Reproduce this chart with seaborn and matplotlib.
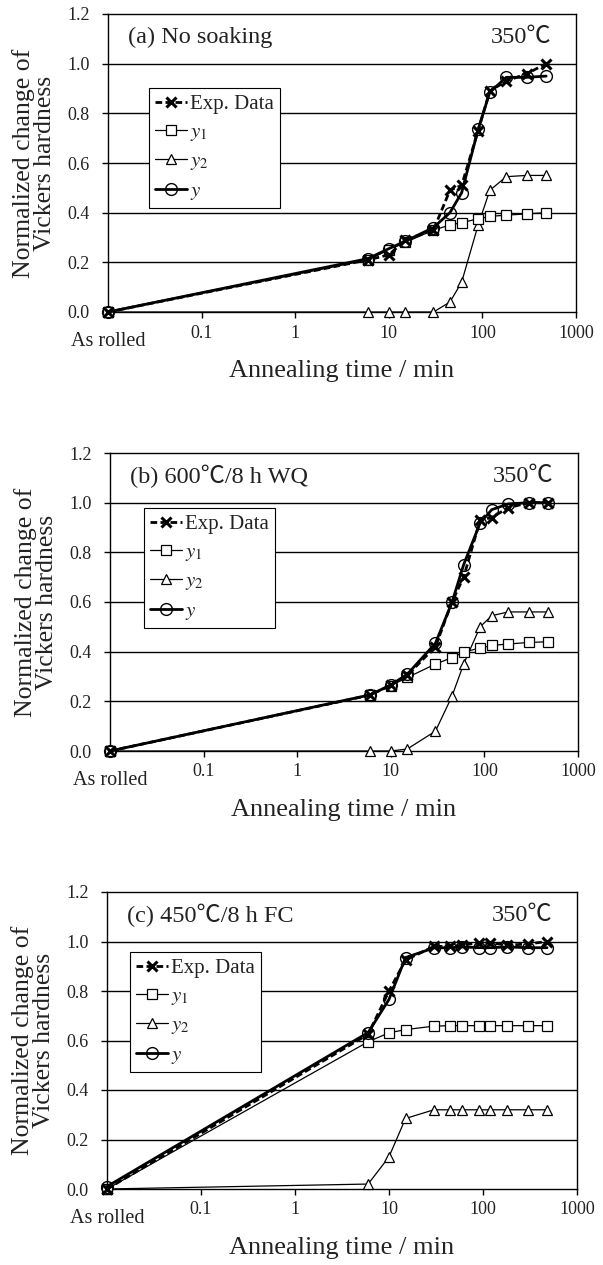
import numpy as np
import pandas as pd
import seaborn as sns
import matplotlib
matplotlib.use("Agg")
import matplotlib.pyplot as plt
import matplotlib.transforms as mtransforms

sns.set_theme(style="white")
plt.rcParams['font.family'] = ['Liberation Serif', 'DejaVu Serif']
plt.rcParams['mathtext.fontset'] = 'stix'

# ---------------- data ----------------
times = [0.01, 6, 10, 15, 30, 45, 60, 90, 120, 180, 300, 480]
xtick_values = [0.1, 1, 10, 100, 1000]
xtick_labels = ["0.1", "1", "10", "100", "1000"]
ytick_values = [0.0, 0.2, 0.4, 0.6, 0.8, 1.0, 1.2]
panel_titles = ["(a) No soaking", "(b) 600\u2103/8 h WQ", "(c) 450\u2103/8 h FC"]
temp_label = "350\u2103"
series_labels = ["Exp. Data", "$y_1$", "$y_2$", "$y$"]

a_exp = [0, 0.21, 0.23, 0.29, 0.33, 0.49, 0.51, 0.73, 0.89, 0.93, 0.96, 1.00]
a_y1 = [0, 0.21, 0.25, 0.28, 0.33, 0.35, 0.36, 0.375, 0.385, 0.39, 0.395, 0.40]
a_y2 = [0, 0, 0, 0, 0, 0.04, 0.12, 0.35, 0.49, 0.545, 0.55, 0.55]
a_y = [0, 0.215, 0.255, 0.285, 0.34, 0.40, 0.48, 0.735, 0.885, 0.945, 0.945, 0.95]

b_exp = [0, 0.225, 0.265, 0.305, 0.42, 0.60, 0.70, 0.93, 0.94, 0.98, 1.0, 1.0]
b_y1 = [0, 0.225, 0.263, 0.296, 0.35, 0.376, 0.398, 0.415, 0.425, 0.431, 0.437, 0.44]
b_y2 = [0, 0, 0, 0.008, 0.08, 0.22, 0.35, 0.50, 0.545, 0.56, 0.56, 0.56]
b_y = [0, 0.226, 0.266, 0.309, 0.434, 0.598, 0.75, 0.918, 0.972, 0.995, 1.0, 1.0]

c_exp = [0, 0.625, 0.80, 0.925, 0.98, 0.98, 0.985, 0.995, 0.995, 0.985, 0.99, 1.0]
c_y1 = [0, 0.595, 0.631, 0.644, 0.658, 0.66, 0.66, 0.66, 0.66, 0.66, 0.66, 0.66]
c_y2 = [0, 0.02, 0.13, 0.285, 0.32, 0.32, 0.32, 0.32, 0.32, 0.32, 0.32, 0.32]
c_y = [0.01, 0.632, 0.766, 0.935, 0.974, 0.975, 0.978, 0.975, 0.975, 0.978, 0.975, 0.975]

panels = [
    (a_exp, a_y1, a_y2, a_y),
    (b_exp, b_y1, b_y2, b_y),
    (c_exp, c_y1, c_y2, c_y),
]

# ---------------- layout ----------------
W, H = 603, 1265
fig = plt.figure(figsize=(W / 100, H / 100), dpi=100)

# axes boxes in pixels: left, top, right, bottom
boxes = [(108, 14, 576, 312), (110, 453, 578, 751), (107, 892, 577, 1189)]
legend_pos = [(149, 88), (144, 508), (130, 952)]

tick_fs = 13
rolled_fs = 14.5
xlabel_fs = 19
ylabel_fs = 18.5
title_fs = 17.5
legend_fs = 15
txt_color = "#222222"
cjk_family = ['Liberation Serif', 'Noto Sans CJK JP']

for i, (data, box, lpos) in enumerate(zip(panels, boxes, legend_pos)):
    l, t, r, b = box
    ax = fig.add_axes([l / W, 1 - b / H, (r - l) / W, (b - t) / H])
    exp, y1, y2, y = data

    common = dict(ax=ax, sort=False, color="black", legend=False, clip_on=False)
    sns.lineplot(x=times, y=y2, marker="^", markersize=7, linewidth=0.9,
                 markerfacecolor="white", markeredgecolor="black", markeredgewidth=0.9,
                 zorder=3, **common)
    sns.lineplot(x=times, y=y1, marker="s", markersize=7, linewidth=0.9,
                 markerfacecolor="white", markeredgecolor="black", markeredgewidth=0.9,
                 zorder=4, **common)
    sns.lineplot(x=times, y=y, marker="o", markersize=8.5, linewidth=2.0,
                 markerfacecolor="none", markeredgecolor="black", markeredgewidth=1.0,
                 zorder=5, **common)
    sns.lineplot(x=times, y=exp, marker="x", markersize=7, linewidth=2.0,
                 linestyle=(0, (2.4, 1.2)), markeredgewidth=2.2,
                 markeredgecolor="black", markerfacecolor="black",
                 zorder=6, **common)

    ax.set_xscale("log")
    ax.set_xlim(0.01, 1000)
    ax.set_ylim(0, 1.2)
    ax.set_xticks(xtick_values)
    ax.set_xticklabels(xtick_labels, fontsize=tick_fs)
    ax.xaxis.set_minor_locator(matplotlib.ticker.NullLocator())
    ax.set_yticks(ytick_values)
    ax.set_yticklabels([f"{v:.1f}" for v in ytick_values], fontsize=tick_fs)
    ax.tick_params(axis="both", which="major", direction="out", length=4,
                   width=1, color="black", labelcolor=txt_color, bottom=True, left=True)
    ax.tick_params(axis="x", pad=5)
    ax.tick_params(axis="y", pad=9)

    for y_g in [0.2, 0.4, 0.6, 0.8, 1.0]:
        ax.axhline(y_g, color="black", linewidth=1.0, zorder=1)
    for s in ax.spines.values():
        s.set_visible(True)
        s.set_color("black")
        s.set_linewidth(1.0)
        s.set_zorder(2)

    trans = mtransforms.blended_transform_factory(ax.transData, ax.transAxes)
    ax.text(0.01, -0.068, "As rolled", transform=trans, ha="center", va="top",
            fontsize=rolled_fs, color=txt_color)

    ax.set_xlabel("Annealing time / min", fontsize=xlabel_fs, labelpad=13, color=txt_color)
    ax.set_ylabel("Normalized change of\nVickers hardness", fontsize=ylabel_fs,
                  labelpad=8, color=txt_color, linespacing=0.95)

    ax.text(0.043, 0.922, panel_titles[i], transform=ax.transAxes, ha="left",
            va="center", fontsize=title_fs, color=txt_color, family=cjk_family)
    ax.text(0.947, 0.922, temp_label, transform=ax.transAxes, ha="right",
            va="center", fontsize=title_fs, color=txt_color, family=cjk_family)

    lines = ax.get_lines()
    # drawn order: y2, y1, y, exp  -> legend order exp, y1, y2, y
    handles = [lines[3], lines[1], lines[0], lines[2]]
    lx, ly = lpos
    bx = (lx - l) / (r - l)
    by = (b - ly) / (b - t)
    leg = ax.legend(handles, series_labels, loc="upper left", bbox_to_anchor=(bx, by),
                    frameon=True, fancybox=False, shadow=False, fontsize=legend_fs,
                    handlelength=1.5, handletextpad=0.15, labelspacing=0.42,
                    borderpad=0.3, borderaxespad=0.0)
    leg.get_frame().set_edgecolor("black")
    leg.get_frame().set_linewidth(0.8)
    leg.get_frame().set_facecolor("white")
    leg.get_frame().set_alpha(1.0)
    leg.set_zorder(10)
    for txt in leg.get_texts():
        txt.set_color(txt_color)

fig.savefig("out.png", dpi=100, facecolor="white")
